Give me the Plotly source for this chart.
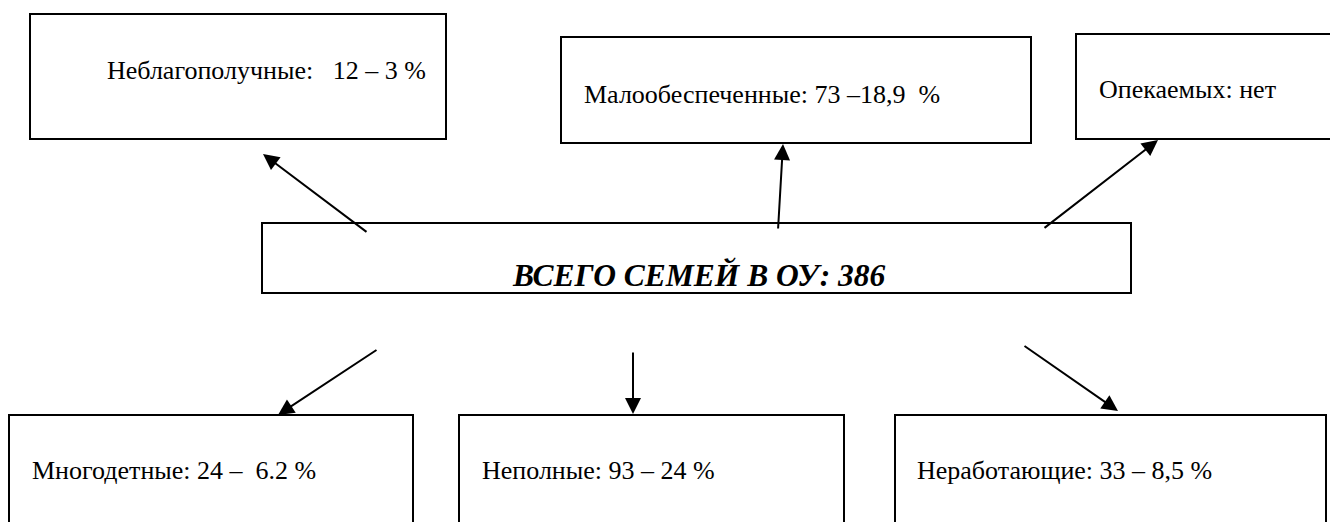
import plotly.graph_objects as go

# ---- data ----
total_label = "ВСЕГО СЕМЕЙ В ОУ"
total_families = 386
categories = ["Неблагополучные", "Малообеспеченные", "Опекаемых",
              "Многодетные", "Неполные", "Неработающие"]
counts = ["12", "73", None, "24", "93", "33"]
percents = ["3", "18,9", None, "6.2", "24", "8,5"]
value_formats = ["{c}:\u00a0\u00a0\u00a0{n} – {p} %",
                 "{c}: {n} –{p}\u00a0\u00a0%",
                 "{c}: нет",
                 "{c}: {n} –\u00a0\u00a0{p} %",
                 "{c}: {n} – {p} %",
                 "{c}: {n} – {p} %"]

# ---- layout (pixel geometry of the scheme) ----
W, H = 1330, 522
boxes = [  # x0, y0, x1, y1
    (30, 14, 446, 139),
    (561, 37, 1031, 143),
    (1076, 34, 1334, 139),
    (9, 415, 413, 530),
    (459, 415, 844, 530),
    (895, 415, 1326, 530),
]
text_pos = [(105, 70), (582, 94), (1097, 89), (30, 470), (480, 470), (915, 470)]
center_box = (262, 223, 1131, 293)
center_text = (699, 275)
arrows = [  # tail x, tail y, tip x, tip y
    (368, 233, 263, 154),
    (778, 230, 783, 144),
    (1043, 229, 1158, 140),
    (378, 349, 278, 415),
    (633, 351, 633, 414),
    (1023, 345, 1118, 411),
]

fig = go.Figure()
fig.add_trace(go.Scatter(x=[0], y=[0], mode="markers", marker=dict(opacity=0),
                         hoverinfo="skip", showlegend=False))

shapes = []
annotations = []
line_style = dict(color="black", width=2)
for (x0, y0, x1, y1) in list(boxes) + [center_box]:
    shapes.append(dict(type="rect", xref="x", yref="y", x0=x0, y0=y0, x1=x1, y1=y1,
                       line=line_style, fillcolor="rgba(0,0,0,0)", layer="above"))

font = dict(family="Liberation Serif, Times New Roman, serif", size=26, color="black")
for cat, n, p, fmt, (tx, ty) in zip(categories, counts, percents, value_formats, text_pos):
    annotations.append(dict(x=tx, y=ty, xref="x", yref="y", showarrow=False,
                            xanchor="left", yanchor="middle",
                            text=fmt.format(c=cat, n=n, p=p), font=font))

annotations.append(dict(x=center_text[0], y=center_text[1], xref="x", yref="y",
                        showarrow=False, xanchor="center", yanchor="middle",
                        text=f"<b><i>{total_label}: {total_families}</i></b>",
                        font=dict(family="Liberation Serif, Times New Roman, serif",
                                  size=31.5, color="black")))

for (ax, ay, x, y) in arrows:
    annotations.append(dict(x=x, y=y, ax=ax, ay=ay, xref="x", yref="y",
                            axref="x", ayref="y", showarrow=True, text="",
                            arrowhead=2, arrowsize=1.6, arrowwidth=2,
                            arrowcolor="black", standoff=0, startstandoff=0))

fig.update_layout(
    width=W, height=H,
    margin=dict(l=0, r=0, t=0, b=0),
    paper_bgcolor="white", plot_bgcolor="white",
    xaxis=dict(range=[0, W], visible=False, fixedrange=True),
    yaxis=dict(range=[H, 0], visible=False, fixedrange=True),
    shapes=shapes, annotations=annotations,
    showlegend=False,
)

fig.write_html("out.html", config={"displayModeBar": False},
               post_script="document.body.style.margin='0';document.body.style.overflow='hidden';")
